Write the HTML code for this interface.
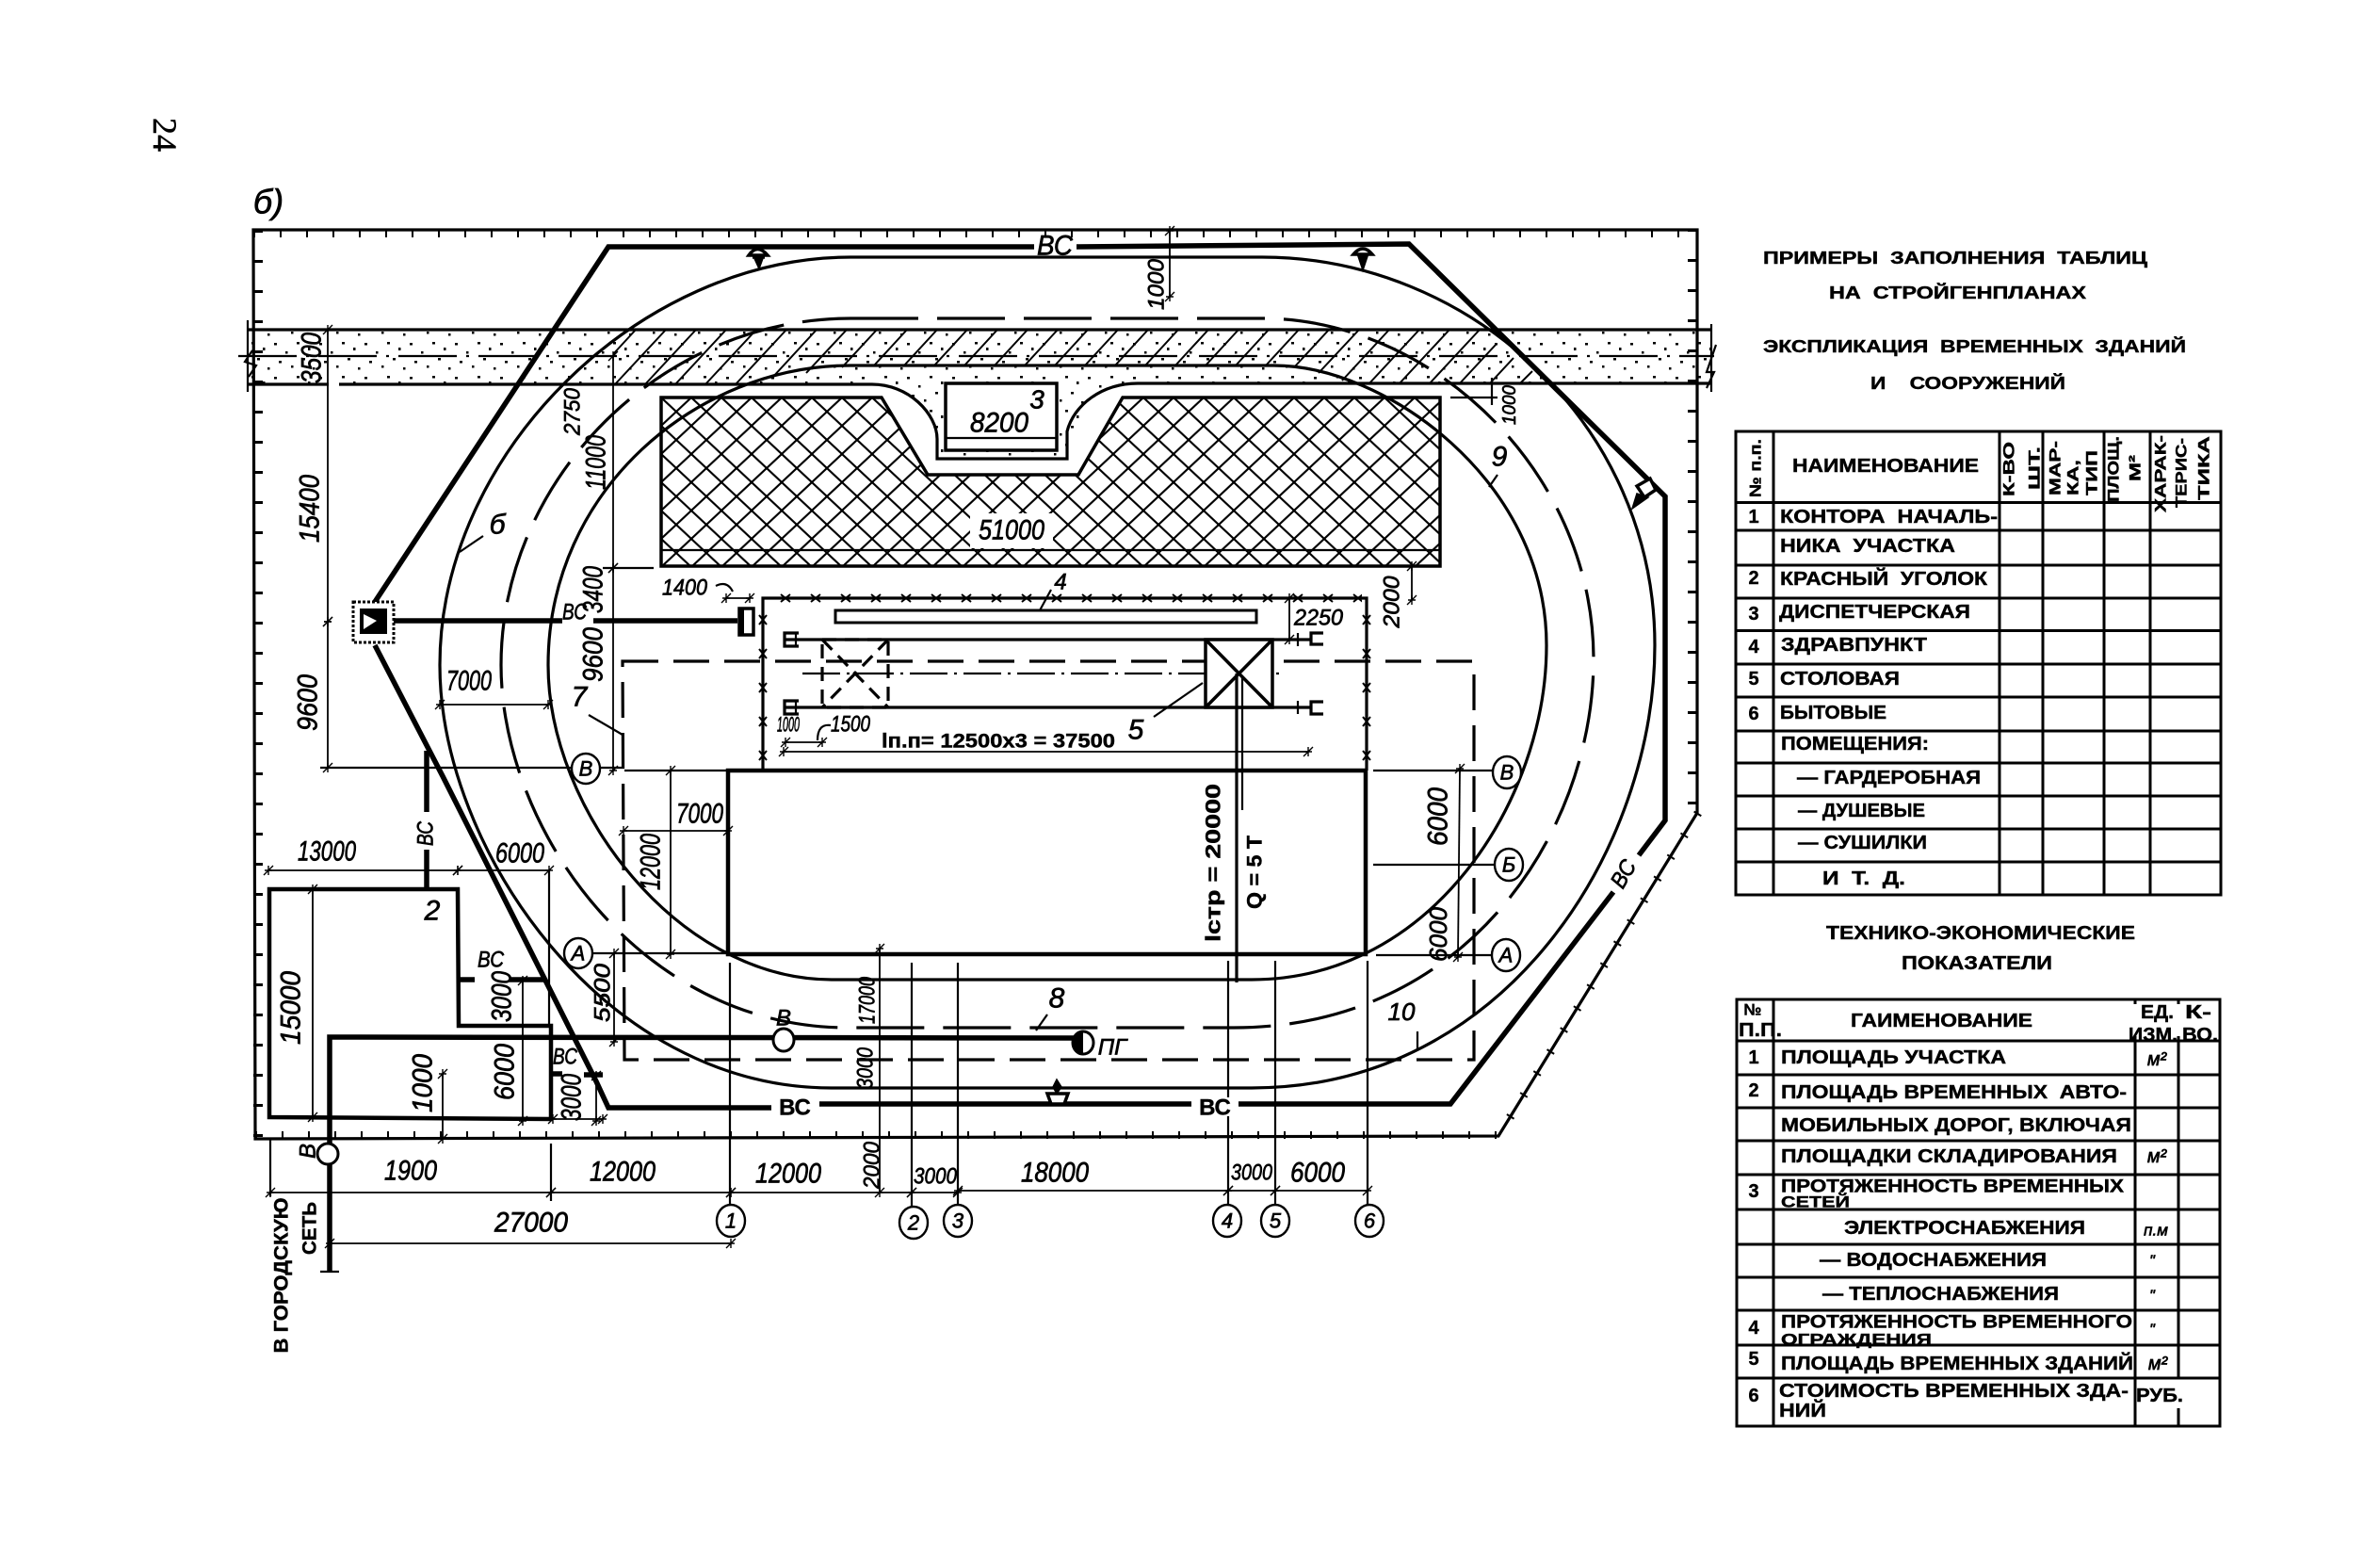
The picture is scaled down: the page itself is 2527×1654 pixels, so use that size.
<!DOCTYPE html>
<html lang="ru"><head><meta charset="utf-8"><title>Стройгенплан</title>
<style>
html,body{margin:0;padding:0;background:#fff}
svg{display:block}
text{fill:#000;dominant-baseline:central}
.d{font:italic 30px "Liberation Sans",sans-serif;text-anchor:middle;stroke:#000;stroke-width:.7}
.s{font-size:24px}
.b{font:bold 20px "Liberation Sans",sans-serif;stroke:#000;stroke-width:.45}
.c{text-anchor:middle}
.t{font-size:17px}
.l{fill:none;stroke:#000;stroke-width:2.2}
.h{fill:none;stroke:#000;stroke-width:5.5}
.m{fill:none;stroke:#000;stroke-width:3.2}
.dm{fill:none;stroke:#000;stroke-width:1.8;marker-start:url(#tk);marker-end:url(#tk)}
.tb{fill:none;stroke:#000;stroke-width:3}
.a{fill:#fff;stroke:#000;stroke-width:2.4}
</style></head><body>
<svg xmlns="http://www.w3.org/2000/svg" width="2527" height="1654" viewBox="0 0 2527 1654">
<defs>
<marker id="tk" markerUnits="userSpaceOnUse" markerWidth="16" markerHeight="16" refX="8" refY="8" orient="0"><path d="M3 13L13 3M8 3V13M4 8H12" stroke="#000" stroke-width="1.4" fill="none"/></marker>
<pattern id="dots" patternUnits="userSpaceOnUse" width="48" height="36">
<g fill="#000"><rect x="3" y="4" width="3" height="2.5"/><rect x="15" y="13" width="2.5" height="2.5"/><rect x="27" y="3" width="3" height="2.5"/><rect x="39" y="9" width="2.5" height="3"/><rect x="8" y="23" width="3" height="2.5"/><rect x="21" y="28" width="2.5" height="2.5"/><rect x="33" y="20" width="3" height="2.5"/><rect x="44" y="30" width="2.5" height="2.5"/></g></pattern>
<pattern id="cross" patternUnits="userSpaceOnUse" width="32" height="30" x="702" y="422"><path d="M0 0L32 30M32 0L0 30" stroke="#000" stroke-width="2.1"/></pattern>
<pattern id="xh" patternUnits="userSpaceOnUse" width="32" height="12" x="818" y="629"><path d="M11 2L21 10M21 2L11 10" stroke="#000" stroke-width="2"/></pattern>
<pattern id="xv" patternUnits="userSpaceOnUse" width="12" height="36" x="804" y="640"><path d="M2 13L10 23M10 13L2 23" stroke="#000" stroke-width="2"/></pattern>
<pattern id="xv2" patternUnits="userSpaceOnUse" width="12" height="36" x="1445" y="640"><path d="M2 13L10 23M10 13L2 23" stroke="#000" stroke-width="2"/></pattern>
</defs>
<rect width="2527" height="1654" fill="#fff"/>

<text transform="rotate(90 175 143)" x="175" y="143" text-anchor="middle" style="font:36px 'Liberation Serif',serif;stroke:#000;stroke-width:.5">24</text>
<text x="285" y="214" class="d" style="font-size:36px">б)</text>

<!-- band -->
<rect x="263" y="350" width="1554" height="58" fill="url(#dots)"/>
<path d="M924 407C965 407 995 440 995 487H1133C1137 440 1165 407 1208 407Z" fill="url(#dots)"/>
<!-- hatch -->
<path fill="none" stroke="#000" stroke-width="2" d="M675 350L651 376M707 350L653 408M739 350L685 408M771 350L717 408M803 350L749 408M835 350L781 408M867 350L819 402M899 350L856 396M931 350L894 390M963 350L928 388M995 350L960 388M1027 350L992 388M1059 350L1024 388M1091 350L1056 388M1123 350L1088 388M1155 350L1120 388M1187 350L1152 388M1219 350L1184 388M1251 350L1216 388M1283 350L1248 388M1315 350L1280 388M1347 350L1312 388M1379 350L1344 388M1411 350L1374 390M1443 350L1400 396M1475 350L1425 404M1507 350L1453 408M1539 350L1485 408M1571 350L1517 408M1588 366L1549 408M1607 380L1581 408M1627 394L1613 408"/>

<!-- storage -->
<path d="M702 422H936L985 504H1145L1192 422H1529V601H702Z" fill="#fff"/>
<path d="M702 422H936L985 504H1145L1192 422H1529V601H702Z" fill="url(#cross)" stroke="#000" stroke-width="3.5"/>
<path class="l" d="M702 584H1529"/>
<rect x="1030" y="545" width="88" height="37" fill="#fff"/>
<text class="d" x="1074" y="563" textLength="70" lengthAdjust="spacingAndGlyphs">51000</text>

<!-- band lines -->
<path class="m" d="M263 350H1817"/>
<path class="m" d="M263 408H349M360 408H924C965 407 995 440 995 466V487H1133V458C1140 430 1170 407 1208 407H1817"/>
<path class="l" d="M253 378H1820" stroke-dasharray="62 10 3 10"/>
<path class="l" d="M263 340V416M1817 344V416"/>
<path class="l" d="M268 372L260 384L272 388L264 400M1822 366L1812 395H1820L1812 412"/>

<!-- box 3 -->
<rect x="1004" y="407" width="118" height="71" fill="#fff" stroke="#000" stroke-width="3.5"/>
<path class="l" d="M1004 465H1122"/>
<text class="d" x="1061" y="449" textLength="62" lengthAdjust="spacingAndGlyphs">8200</text>
<text class="d" x="1101" y="424" style="font-size:28px">3</text>

<!-- frame -->
<path class="m" d="M269 244H1802V863L1591 1206L271 1209Z"/>
<path fill="none" stroke="#000" stroke-width="8" stroke-dasharray="2 26" d="M269 248H1802M271 1205H1591"/>
<path fill="none" stroke="#000" stroke-width="10" stroke-dasharray="3 29" d="M274 244V1209M1797 243V863"/>
<path fill="none" stroke="#000" stroke-width="9" stroke-dasharray="2 25" d="M1803 863L1591 1206"/>

<!-- rings -->
<path class="m" d="M903 273H1340C1560 273 1757 450 1757 685C1757 900 1600 1155 1329 1155H883C640 1155 467 900 467 706C467 480 680 273 903 273Z"/>
<path class="m" d="M903 388H1351C1470 387 1642 510 1642 685C1642 850 1520 1040 1329 1040H883C720 1040 582 860 582 706C582 520 740 388 903 388Z"/>
<path class="m" stroke-dasharray="72 20" d="M903 338H1340C1520 338 1692 500 1692 700C1692 880 1560 1091 1310 1091H900C680 1091 532 880 532 706C532 510 700 338 903 338Z"/>

<!-- dashed rect 7 -->
<path class="m" stroke-dasharray="38 16" d="M661 702H1565V1125H663Z"/>

<!-- fence -->
<path class="h" d="M398 639L646 262H1098M1143 262L1496 259L1768 527V871L1740 908M1713 947L1540 1172H1315M1265 1172H870M819 1176H646L633 1148L470 824L398 685"/>
<path class="h" d="M396 659H597M630 659H783"/>
<rect x="375" y="639" width="43" height="43" fill="#fff" stroke="#000" stroke-width="3" stroke-dasharray="3 2"/>
<rect x="382" y="646" width="29" height="27" fill="#000"/>
<path d="M386 652L400 659L386 668Z" fill="#fff"/>
<rect x="785" y="646" width="15" height="28" fill="#fff" stroke="#000" stroke-width="3.5"/>
<rect x="785" y="646" width="5" height="28" fill="#000"/>
<text class="d s" x="610" y="650" textLength="26" lengthAdjust="spacingAndGlyphs">ВС</text>
<text class="d" x="1120" y="261" textLength="38" lengthAdjust="spacingAndGlyphs">ВС</text>
<text class="b c" x="844" y="1176" style="font-size:24px">ВС</text>
<text class="b c" x="1290" y="1176" style="font-size:24px">ВС</text>
<text class="d s" transform="rotate(-60 1724 928)" x="1724" y="928" textLength="30" lengthAdjust="spacingAndGlyphs">ВС</text>

<!-- lights -->
<g fill="#fff" stroke="#000" stroke-width="3.5">
<path d="M795 271Q804 258 815 271Z"/><path d="M799 273H812" /><path d="M803 273L801 275L806 286L810 275Z" fill="#000" stroke-width="1"/>
<path d="M1437 270Q1447 258 1457 270Z"/><path d="M1442 272L1447 287L1452 272Z" fill="#000" stroke-width="1.5"/>
<path d="M1738 516L1752 508L1758 520L1746 528Z"/><path d="M1738 524L1750 528L1733 540Z" fill="#000" stroke-width="1.5"/>
<path d="M1112 1161H1134L1130 1172H1116Z"/><path d="M1122 1146L1118 1154L1122 1161L1127 1154Z" fill="#000" stroke-width="1.5"/>
</g>

<!-- compound 4 -->
<path class="m" d="M810 818V635H1451V818"/>
<rect x="818" y="629" width="628" height="12" fill="url(#xh)"/>
<rect x="804" y="640" width="12" height="178" fill="url(#xv)"/>
<rect x="1445" y="640" width="12" height="178" fill="url(#xv2)"/>
<rect x="887" y="648" width="447" height="13" fill="#fff" stroke="#000" stroke-width="3"/>
<path class="l" d="M1104 648L1116 626"/>
<text class="d s" x="1126" y="618">4</text>

<!-- crane -->
<path class="m" d="M834 679H1392M834 751H1392"/>
<path class="l" d="M852 715H1365" stroke-dasharray="40 7 3 7"/>
<path class="m" d="M848 672H833V686H848M848 744H833V758H848M1405 672H1392V684H1405M1405 745H1392V758H1405"/>
<path class="l" d="M845 672V686M845 744V758M1378 672V686M1378 744V758"/>
<path class="m" stroke-dasharray="15 9" d="M873 679H943V751H873ZM873 679L943 751M943 679L873 751"/>
<path d="M1280 679H1351V751H1280ZM1280 679L1351 751M1351 679L1280 751" fill="#fff" stroke="#000" stroke-width="3.5"/>
<path class="m" d="M1313 715L1313 1043"/><path class="l" d="M1319 720V860"/>
<path class="l" d="M1225 761L1277 725"/>
<text class="d" x="1206" y="775">5</text>
<text class="b" x="936" y="787" style="font-size:21px" textLength="248" lengthAdjust="spacingAndGlyphs">lп.п= 12500х3 = 37500</text>
<line class="dm" x1="832" y1="798" x2="1389" y2="798"/>
<line class="dm" x1="834" y1="788" x2="873" y2="788"/>
<text class="d" x="837" y="769" style="font-size:22px" textLength="24" lengthAdjust="spacingAndGlyphs">1000</text>
<text class="d" x="903" y="769" style="font-size:24px" textLength="42" lengthAdjust="spacingAndGlyphs">1500</text>
<path class="l" d="M868 786Q868 768 882 770"/>
<line class="dm" x1="771" y1="635" x2="796" y2="635"/>
<text class="d s" x="727" y="624" textLength="48" lengthAdjust="spacingAndGlyphs">1400</text>
<path class="l" d="M760 622Q772 616 778 628"/>
<line class="dm" x1="1369" y1="635" x2="1369" y2="679"/>
<text class="d s" x="1400" y="656" textLength="52" lengthAdjust="spacingAndGlyphs">2250</text>
<line class="dm" x1="1499" y1="601" x2="1499" y2="637"/>
<text class="d s" transform="rotate(-90 1478 639)" x="1478" y="639" textLength="55" lengthAdjust="spacingAndGlyphs">2000</text>

<!-- building -->
<path d="M773 1013V818H1450V1013Z" fill="none" stroke="#000" stroke-width="4.5"/>

<!-- axis lines -->
<path class="l" d="M775 1022V1279M968 1022V1281M1017 1022V1280M1304 1020V1165M1304 1185V1280M1354 1020V1280M1452 1020V1280"/>
<path class="l" d="M340 815H607M638 815H663M663 818H773M1458 818H1587M1458 918H1587M1461 1014H1584M630 1012H773"/>
<ellipse class="a" cx="622" cy="816" rx="15" ry="16"/><text class="d" x="622" y="816" style="font-size:22px">В</text>
<ellipse class="a" cx="1600" cy="820" rx="15" ry="17"/><text class="d" x="1600" y="820" style="font-size:22px">В</text>
<ellipse class="a" cx="1602" cy="918" rx="15" ry="17"/><text class="d" x="1602" y="918" style="font-size:22px">Б</text>
<ellipse class="a" cx="1599" cy="1014" rx="15" ry="17"/><text class="d" x="1599" y="1014" style="font-size:22px">А</text>
<ellipse class="a" cx="614" cy="1012" rx="15" ry="16"/><text class="d" x="614" y="1012" style="font-size:22px">А</text>
<ellipse class="a" cx="776" cy="1296" rx="15" ry="17"/><text class="d" x="776" y="1296" style="font-size:22px">1</text>
<ellipse class="a" cx="970" cy="1298" rx="15" ry="17"/><text class="d" x="970" y="1298" style="font-size:22px">2</text>
<ellipse class="a" cx="1017" cy="1296" rx="15" ry="17"/><text class="d" x="1017" y="1296" style="font-size:22px">3</text>
<ellipse class="a" cx="1303" cy="1296" rx="15" ry="17"/><text class="d" x="1303" y="1296" style="font-size:22px">4</text>
<ellipse class="a" cx="1354" cy="1296" rx="15" ry="17"/><text class="d" x="1354" y="1296" style="font-size:22px">5</text>
<ellipse class="a" cx="1454" cy="1296" rx="15" ry="17"/><text class="d" x="1454" y="1296" style="font-size:22px">6</text>

<!-- dims main -->
<line class="dm" x1="348" y1="350" x2="348" y2="660"/>
<line class="dm" x1="348" y1="660" x2="348" y2="815"/>
<line class="dm" x1="651" y1="378" x2="651" y2="603"/>
<line class="dm" x1="651" y1="603" x2="651" y2="818"/>
<path class="l" d="M640 603H694"/>
<line class="dm" x1="1242" y1="245" x2="1242" y2="315"/>
<line class="dm" x1="467" y1="748" x2="582" y2="748"/>
<line class="dm" x1="662" y1="882" x2="773" y2="882"/>
<line class="dm" x1="712" y1="818" x2="712" y2="1013"/>
<line class="dm" x1="1550" y1="816" x2="1548" y2="1016"/>
<line class="dm" x1="652" y1="1012" x2="652" y2="1106"/>
<line class="dm" x1="934" y1="1007" x2="934" y2="1266"/>
<path class="l" d="M1540 422H1590M1584 401V430M1590 504L1581 517M513 569L488 586M625 759L661 780M1112 1077L1100 1094M1505 1095V1114"/>
<text class="d" transform="rotate(-90 331 380)" x="331" y="380" textLength="54" lengthAdjust="spacingAndGlyphs">3500</text>
<text class="d" transform="rotate(-90 329 540)" x="329" y="540" textLength="72" lengthAdjust="spacingAndGlyphs">15400</text>
<text class="d" transform="rotate(-90 327 746)" x="327" y="746" textLength="60" lengthAdjust="spacingAndGlyphs">9600</text>
<text class="d s" transform="rotate(-90 608 437)" x="608" y="437" textLength="50" lengthAdjust="spacingAndGlyphs">2750</text>
<text class="d" transform="rotate(-90 633 491)" x="633" y="491" textLength="58" lengthAdjust="spacingAndGlyphs">11000</text>
<text class="d" transform="rotate(-90 630 626)" x="630" y="626" textLength="50" lengthAdjust="spacingAndGlyphs">3400</text>
<text class="d" transform="rotate(-90 630 695)" x="630" y="695" textLength="58" lengthAdjust="spacingAndGlyphs">9600</text>
<text class="d" x="498" y="723" textLength="48" lengthAdjust="spacingAndGlyphs">7000</text>
<text class="d" x="528" y="557">б</text>
<text class="d" x="615" y="740">7</text>
<text class="d" x="1592" y="485">9</text>
<text class="d s" transform="rotate(-90 1228 302)" x="1228" y="302" textLength="54" lengthAdjust="spacingAndGlyphs">1000</text>
<text class="d s" transform="rotate(-90 1603 430)" x="1603" y="430" style="font-size:20px" textLength="42" lengthAdjust="spacingAndGlyphs">1000</text>
<text class="d" x="743" y="864" textLength="50" lengthAdjust="spacingAndGlyphs">7000</text>
<text class="d" transform="rotate(-90 691 915)" x="691" y="915" textLength="60" lengthAdjust="spacingAndGlyphs">12000</text>
<text class="d s" transform="rotate(-90 640 1054)" x="640" y="1054" textLength="62" lengthAdjust="spacingAndGlyphs">5500</text>
<text class="d" transform="rotate(-90 1527 867)" x="1527" y="867" textLength="62" lengthAdjust="spacingAndGlyphs">6000</text>
<text class="d" transform="rotate(-90 1527 992)" x="1527" y="992" style="font-size:26px" textLength="58" lengthAdjust="spacingAndGlyphs">6000</text>
<text class="d s" transform="rotate(-90 921 1062)" x="921" y="1062" textLength="50" lengthAdjust="spacingAndGlyphs">17000</text>
<text class="d s" transform="rotate(-90 919 1134)" x="919" y="1134" textLength="44" lengthAdjust="spacingAndGlyphs">3000</text>
<text class="d s" transform="rotate(-90 926 1237)" x="926" y="1237" textLength="50" lengthAdjust="spacingAndGlyphs">2000</text>
<text class="b c" transform="rotate(-90 1288 916)" x="1288" y="916" style="font-size:22px" textLength="168" lengthAdjust="spacingAndGlyphs">lстр = 20000</text>
<text class="b c" transform="rotate(-90 1332 926)" x="1332" y="926" style="font-size:22px" textLength="78" lengthAdjust="spacingAndGlyphs">Q = 5 Т</text>

<!-- bottom dims -->
<path class="l" d="M287 1209V1270M585 1214V1275"/>
<line class="dm" x1="287" y1="1266" x2="585" y2="1266"/>
<line class="dm" x1="585" y1="1266" x2="776" y2="1266"/>
<line class="dm" x1="776" y1="1266" x2="968" y2="1266"/>
<line class="dm" x1="968" y1="1266" x2="1017" y2="1266"/>
<line class="dm" x1="1017" y1="1264" x2="1304" y2="1264"/>
<line class="dm" x1="1304" y1="1264" x2="1354" y2="1264"/>
<line class="dm" x1="1354" y1="1264" x2="1452" y2="1264"/>
<line class="dm" x1="350" y1="1320" x2="776" y2="1320"/>
<text class="d" x="436" y="1243" textLength="56" lengthAdjust="spacingAndGlyphs">1900</text>
<text class="d" x="661" y="1244" textLength="70" lengthAdjust="spacingAndGlyphs">12000</text>
<text class="d" x="837" y="1246" textLength="70" lengthAdjust="spacingAndGlyphs">12000</text>
<text class="d s" x="993" y="1249" textLength="46" lengthAdjust="spacingAndGlyphs">3000</text>
<text class="d" x="1120" y="1245" textLength="72" lengthAdjust="spacingAndGlyphs">18000</text>
<text class="d s" x="1329" y="1245" textLength="44" lengthAdjust="spacingAndGlyphs">3000</text>
<text class="d" x="1399" y="1245" textLength="58" lengthAdjust="spacingAndGlyphs">6000</text>
<text class="d" x="564" y="1298" textLength="78" lengthAdjust="spacingAndGlyphs">27000</text>

<!-- water -->
<path class="h" d="M350 1350V1101L1150 1102"/>
<circle cx="348" cy="1225" r="11" class="a" style="stroke-width:3"/>
<ellipse cx="832" cy="1104" rx="11" ry="12" class="a" style="stroke-width:3"/>
<ellipse cx="1150" cy="1107" rx="11" ry="12" class="a" style="stroke-width:3"/>
<path d="M1150 1095A11 12 0 0 0 1150 1119Z" fill="#000"/>
<text class="d s" transform="rotate(-90 327 1222)" x="327" y="1222">В</text>
<text class="d s" x="832" y="1081">В</text>
<text class="d" x="1181" y="1112" style="font-size:24px">ПГ</text>
<text class="d" x="1122" y="1060">8</text>
<text class="d" x="1488" y="1074" style="font-size:26px">10</text>
<text class="b c" transform="rotate(-90 299 1354)" x="299" y="1354" style="font-size:21px" textLength="165" lengthAdjust="spacingAndGlyphs">В ГОРОДСКУЮ</text>
<text class="b c" transform="rotate(-90 329 1304)" x="329" y="1304" style="font-size:21px" textLength="56" lengthAdjust="spacingAndGlyphs">СЕТЬ</text>
<line class="l" x1="340" y1="1350" x2="360" y2="1350"/>

<!-- block 2 -->
<path d="M286 944H486L487 1089H585V1188L286 1186Z" fill="none" stroke="#000" stroke-width="4.5"/>
<path class="h" d="M453 797V862M453 902V944M487 1040H504M541 1040H577M585 1140H597M620 1141H640"/>
<line class="dm" x1="285" y1="924" x2="486" y2="924"/>
<line class="dm" x1="486" y1="924" x2="583" y2="924"/>
<path class="l" d="M583 924V1091"/>
<line class="dm" x1="332" y1="944" x2="332" y2="1186"/>
<line class="dm" x1="470" y1="1140" x2="470" y2="1209"/>
<line class="dm" x1="555" y1="1041" x2="555" y2="1190"/>
<line class="dm" x1="587" y1="1188" x2="640" y2="1188"/>
<line class="dm" x1="633" y1="1142" x2="633" y2="1190"/>
<text class="d s" transform="rotate(-90 452 885)" x="452" y="885" textLength="26" lengthAdjust="spacingAndGlyphs">ВС</text>
<text class="d" x="459" y="967">2</text>
<text class="d" x="347" y="904" textLength="62" lengthAdjust="spacingAndGlyphs">13000</text>
<text class="d" x="552" y="906" textLength="52" lengthAdjust="spacingAndGlyphs">6000</text>
<text class="d" transform="rotate(-90 309 1070)" x="309" y="1070" textLength="78" lengthAdjust="spacingAndGlyphs">15000</text>
<text class="d" transform="rotate(-90 449 1150)" x="449" y="1150" textLength="62" lengthAdjust="spacingAndGlyphs">1000</text>
<text class="d" transform="rotate(-90 536 1138)" x="536" y="1138" textLength="60" lengthAdjust="spacingAndGlyphs">6000</text>
<text class="d" transform="rotate(-90 533 1058)" x="533" y="1058" textLength="54" lengthAdjust="spacingAndGlyphs">3000</text>
<text class="d" transform="rotate(-90 607 1165)" x="607" y="1165" textLength="50" lengthAdjust="spacingAndGlyphs">3000</text>
<text class="d s" x="521" y="1019" textLength="28" lengthAdjust="spacingAndGlyphs">ВС</text>
<text class="d s" x="600" y="1122" textLength="26" lengthAdjust="spacingAndGlyphs">ВС</text>

<!-- titles -->
<g>
<text class="b" x="1872" y="274" style="font-size:18px" textLength="408" lengthAdjust="spacingAndGlyphs">ПРИМЕРЫ&#160;&#160;ЗАПОЛНЕНИЯ&#160;&#160;ТАБЛИЦ</text>
<text class="b" x="1942" y="311" style="font-size:18px" textLength="273" lengthAdjust="spacingAndGlyphs">НА&#160;&#160;СТРОЙГЕНПЛАНАХ</text>
<text class="b" x="1872" y="368" style="font-size:18px" textLength="449" lengthAdjust="spacingAndGlyphs">ЭКСПЛИКАЦИЯ&#160;&#160;ВРЕМЕННЫХ&#160;&#160;ЗДАНИЙ</text>
<text class="b" x="1986" y="407" style="font-size:18px" textLength="207" lengthAdjust="spacingAndGlyphs">И&#160;&#160;&#160;&#160;СООРУЖЕНИЙ</text>
<text class="b" x="1939" y="991" textLength="328" lengthAdjust="spacingAndGlyphs">ТЕХНИКО-ЭКОНОМИЧЕСКИЕ</text>
<text class="b" x="2019" y="1023" textLength="160" lengthAdjust="spacingAndGlyphs">ПОКАЗАТЕЛИ</text>
</g>

<!-- table 1 -->
<path class="tb" d="M1843 458H2358V950H1843ZM1883 458V950M2123 458V950M2169 458V950M2234 458V950M2283 458V950M1843 533.5H2358M1843 563H2358M1843 600H2358M1843 635H2358M1843 669.5H2358M1843 705H2358M1843 740H2358M1843 776H2358M1843 810H2358M1843 845H2358M1843 880H2358M1843 915H2358"/>
<text class="b" x="1903" y="495" textLength="198" lengthAdjust="spacingAndGlyphs">НАИМЕНОВАНИЕ</text>
<text class="b c t" transform="rotate(-90 1864 497)" x="1864" y="497" textLength="62" lengthAdjust="spacingAndGlyphs">№ п.п.</text>
<text class="b c t" transform="rotate(-90 2133 498)" x="2133" y="498" textLength="58" lengthAdjust="spacingAndGlyphs">К-ВО</text>
<text class="b c t" transform="rotate(-90 2160 497)" x="2160" y="497" textLength="46" lengthAdjust="spacingAndGlyphs">ШТ.</text>
<text class="b c t" transform="rotate(-90 2182 497)" x="2182" y="497" textLength="58" lengthAdjust="spacingAndGlyphs">МАР-</text>
<text class="b c t" transform="rotate(-90 2201 507)" x="2201" y="507" textLength="38" lengthAdjust="spacingAndGlyphs">КА,</text>
<text class="b c t" transform="rotate(-90 2221 502)" x="2221" y="502" textLength="48" lengthAdjust="spacingAndGlyphs">ТИП</text>
<text class="b c t" transform="rotate(-90 2244 498)" x="2244" y="498" textLength="70" lengthAdjust="spacingAndGlyphs">ПЛОЩ.</text>
<text class="b c t" transform="rotate(-90 2267 497)" x="2267" y="497" textLength="28" lengthAdjust="spacingAndGlyphs">М²</text>
<text class="b c t" transform="rotate(-90 2294 503)" x="2294" y="503" textLength="82" lengthAdjust="spacingAndGlyphs">ХАРАК-</text>
<text class="b c t" transform="rotate(-90 2316 502)" x="2316" y="502" textLength="74" lengthAdjust="spacingAndGlyphs">ТЕРИС-</text>
<text class="b c t" transform="rotate(-90 2340 497)" x="2340" y="497" textLength="68" lengthAdjust="spacingAndGlyphs">ТИКА</text>
<text class="b c" x="1862" y="549">1</text><text class="b c" x="1862" y="614">2</text><text class="b c" x="1862" y="652">3</text><text class="b c" x="1862" y="687">4</text><text class="b c" x="1862" y="721">5</text><text class="b c" x="1862" y="758">6</text>
<text class="b" x="1890" y="549" textLength="231" lengthAdjust="spacingAndGlyphs">КОНТОРА&#160;&#160;НАЧАЛЬ-</text>
<text class="b" x="1890" y="580" textLength="186" lengthAdjust="spacingAndGlyphs">НИКА&#160;&#160;УЧАСТКА</text>
<text class="b" x="1890" y="615" textLength="220" lengthAdjust="spacingAndGlyphs">КРАСНЫЙ&#160;&#160;УГОЛОК</text>
<text class="b" x="1889" y="650" textLength="203" lengthAdjust="spacingAndGlyphs">ДИСПЕТЧЕРСКАЯ</text>
<text class="b" x="1891" y="685" textLength="155" lengthAdjust="spacingAndGlyphs">ЗДРАВПУНКТ</text>
<text class="b" x="1890" y="721" textLength="127" lengthAdjust="spacingAndGlyphs">СТОЛОВАЯ</text>
<text class="b" x="1890" y="757" textLength="113" lengthAdjust="spacingAndGlyphs">БЫТОВЫЕ</text>
<text class="b" x="1891" y="790" textLength="157" lengthAdjust="spacingAndGlyphs">ПОМЕЩЕНИЯ:</text>
<text class="b" x="1908" y="826" textLength="195" lengthAdjust="spacingAndGlyphs">— ГАРДЕРОБНАЯ</text>
<text class="b" x="1909" y="861" textLength="135" lengthAdjust="spacingAndGlyphs">— ДУШЕВЫЕ</text>
<text class="b" x="1909" y="895" textLength="137" lengthAdjust="spacingAndGlyphs">— СУШИЛКИ</text>
<text class="b" x="1935" y="933" textLength="88" lengthAdjust="spacingAndGlyphs">И&#160;&#160;Т.&#160;&#160;Д.</text>

<!-- table 2 -->
<path class="tb" d="M1844 1061H2357V1514H1844ZM1883 1061V1514M2267 1061V1514M2313 1061V1463M2313 1495V1514M1844 1105H2357M1844 1141H2357M1844 1176H2357M1844 1211H2357M1844 1247H2357M1844 1284H2357M1844 1321H2357M1844 1356H2357M1844 1391H2357M1844 1428H2357M1844 1463H2357"/>
<rect x="2262" y="1066" width="90" height="34" fill="#fff"/>
<text class="b" x="1965" y="1084" textLength="193" lengthAdjust="spacingAndGlyphs">ГАИМЕНОВАНИЕ</text>
<text class="b c t" x="1861" y="1072">№</text>
<text class="b" x="1846" y="1094" textLength="46" lengthAdjust="spacingAndGlyphs">П.П.</text>
<text class="b" x="2273" y="1075" textLength="35" lengthAdjust="spacingAndGlyphs">ЕД.</text>
<text class="b" x="2260" y="1099" textLength="52" lengthAdjust="spacingAndGlyphs">ИЗМ.</text>
<text class="b" x="2320" y="1075" textLength="28" lengthAdjust="spacingAndGlyphs">К-</text>
<text class="b" x="2317" y="1099" textLength="38" lengthAdjust="spacingAndGlyphs">ВО.</text>
<text class="b c" x="1862" y="1123">1</text><text class="b c" x="1862" y="1158">2</text><text class="b c" x="1862" y="1265">3</text><text class="b c" x="1862" y="1410">4</text><text class="b c" x="1862" y="1443">5</text><text class="b c" x="1862" y="1482">6</text>
<text class="b" x="1891" y="1123" textLength="239" lengthAdjust="spacingAndGlyphs">ПЛОЩАДЬ УЧАСТКА</text>
<text class="b" x="1891" y="1160" textLength="367" lengthAdjust="spacingAndGlyphs">ПЛОЩАДЬ ВРЕМЕННЫХ&#160;&#160;АВТО-</text>
<text class="b" x="1891" y="1195" textLength="372" lengthAdjust="spacingAndGlyphs">МОБИЛЬНЫХ ДОРОГ, ВКЛЮЧАЯ</text>
<text class="b" x="1891" y="1228" textLength="357" lengthAdjust="spacingAndGlyphs">ПЛОЩАДКИ СКЛАДИРОВАНИЯ</text>
<text class="b" x="1891" y="1260" textLength="364" lengthAdjust="spacingAndGlyphs" style="font-size:19px">ПРОТЯЖЕННОСТЬ ВРЕМЕННЫХ</text>
<text class="b" x="1891" y="1276" textLength="73" lengthAdjust="spacingAndGlyphs" style="font-size:17px">СЕТЕЙ</text>
<text class="b" x="1958" y="1304" textLength="256" lengthAdjust="spacingAndGlyphs">ЭЛЕКТРОСНАБЖЕНИЯ</text>
<text class="b" x="1932" y="1338" textLength="241" lengthAdjust="spacingAndGlyphs">— ВОДОСНАБЖЕНИЯ</text>
<text class="b" x="1935" y="1374" textLength="251" lengthAdjust="spacingAndGlyphs">— ТЕПЛОСНАБЖЕНИЯ</text>
<text class="b" x="1891" y="1404" textLength="373" lengthAdjust="spacingAndGlyphs" style="font-size:19px">ПРОТЯЖЕННОСТЬ ВРЕМЕННОГО</text>
<text class="b" x="1891" y="1422" textLength="160" lengthAdjust="spacingAndGlyphs" style="font-size:17px">ОГРАЖДЕНИЯ</text>
<text class="b" x="1891" y="1448" textLength="374" lengthAdjust="spacingAndGlyphs">ПЛОЩАДЬ ВРЕМЕННЫХ ЗДАНИЙ</text>
<text class="b" x="1889" y="1477" textLength="371" lengthAdjust="spacingAndGlyphs">СТОИМОСТЬ ВРЕМЕННЫХ ЗДА-</text>
<text class="b" x="1889" y="1498" textLength="50" lengthAdjust="spacingAndGlyphs">НИЙ</text>
<g class="d" style="font-size:20px">
<text x="2290" y="1125">м²</text><text x="2290" y="1228">м²</text><text x="2289" y="1306" style="font-size:17px">п.м</text><text x="2285" y="1339" style="font-size:16px">"</text><text x="2285" y="1376" style="font-size:16px">"</text><text x="2285" y="1412" style="font-size:16px">"</text><text x="2291" y="1448">м²</text>
</g>
<rect x="2269" y="1472" width="50" height="22" fill="#fff"/>
<text class="b" x="2268" y="1482" textLength="50" lengthAdjust="spacingAndGlyphs">РУБ.</text>
</svg>
</body></html>
